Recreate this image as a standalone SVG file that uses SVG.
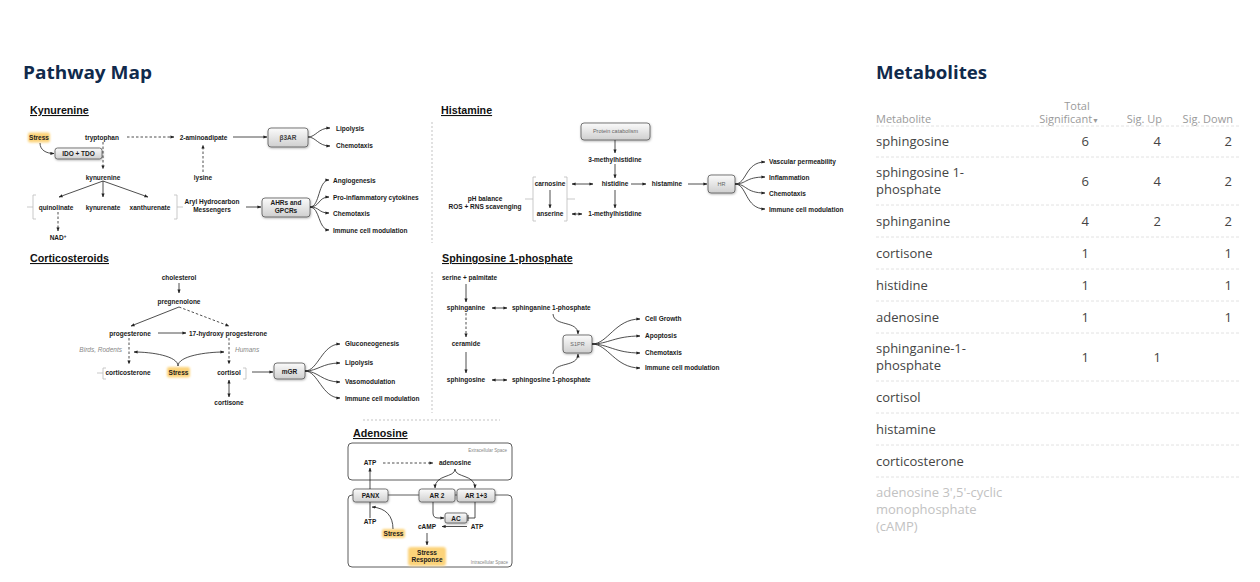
<svg xmlns="http://www.w3.org/2000/svg" width="1260" height="582" viewBox="0 0 1260 582">
<defs>
<style>
.ttl{font-family:"Open Sans","Liberation Sans",sans-serif;font-weight:bold;font-size:18px;fill:#102a4c}
.hd{font-family:"Liberation Sans",Arial,sans-serif;font-weight:bold;font-size:10.7px;fill:#111;text-decoration:underline}
.d{font-family:"Liberation Sans",Arial,sans-serif;font-weight:bold;font-size:6.5px;fill:#1a1a1a;text-anchor:middle}
.ds{font-family:"Liberation Sans",Arial,sans-serif;font-weight:bold;font-size:6.5px;fill:#1a1a1a}
.g{font-family:"Liberation Sans",Arial,sans-serif;font-size:5.5px;fill:#666;text-anchor:middle}
.it{font-family:"Liberation Sans",Arial,sans-serif;font-style:italic;font-size:6.5px;fill:#888}
.sp{font-family:"Liberation Sans",Arial,sans-serif;font-size:4.5px;fill:#888;text-anchor:end}
.box{fill:url(#bg);stroke:#555;stroke-width:0.8;filter:url(#sh)}
.hl{fill:#fcd37a;filter:url(#glow)}
.c{fill:none;stroke:#222;stroke-width:0.8}
.a{marker-end:url(#ah)}
.aa{marker-end:url(#ah);marker-start:url(#ah)}
.dash{stroke-dasharray:2.5,2}
.br{fill:none;stroke:#bbb;stroke-width:0.8}
.sep{stroke:#aaa;stroke-width:0.7;stroke-dasharray:2,2}
.cell{fill:none;stroke:#333;stroke-width:0.8}
.th{font-family:"Open Sans","Liberation Sans",sans-serif;font-size:11px;fill:#9a9a9a}
.tr{font-family:"Open Sans","Liberation Sans",sans-serif;font-size:13px;fill:#444}
.num{font-family:"Open Sans","Liberation Sans",sans-serif;font-size:13px;fill:#444;text-anchor:end}
.tl{stroke:#e2e2e2;stroke-width:1;stroke-dasharray:3,2}
</style>
<linearGradient id="bg" x1="0" y1="0" x2="0" y2="1"><stop offset="0" stop-color="#fbfbfb"/><stop offset="1" stop-color="#cfcfcf"/></linearGradient>
<filter id="sh" x="-20%" y="-20%" width="140%" height="160%"><feDropShadow dx="0.5" dy="1" stdDeviation="0.8" flood-opacity="0.3"/></filter>
<filter id="glow" x="-30%" y="-50%" width="160%" height="200%"><feGaussianBlur stdDeviation="1.2"/></filter>
<marker id="ah" viewBox="0 0 10 10" refX="9" refY="5" markerWidth="4" markerHeight="4" markerUnits="userSpaceOnUse" orient="auto-start-reverse"><path d="M0,1 L10,5 L0,9 z" fill="#222"/></marker>
</defs>
<rect width="1260" height="582" fill="#fff"/>

<text class="ttl" x="23" y="79" textLength="129" lengthAdjust="spacingAndGlyphs">Pathway Map</text>
<text class="ttl" x="876" y="79" textLength="111" lengthAdjust="spacingAndGlyphs">Metabolites</text>

<!-- section headings -->
<g id="headings">
<text class="hd" x="30" y="114">Kynurenine</text>
<text class="hd" x="441" y="114">Histamine</text>
<text class="hd" x="30" y="262">Corticosteroids</text>
<text class="hd" x="442" y="262">Sphingosine 1-phosphate</text>
<text class="hd" x="353" y="437">Adenosine</text>
<line class="sep" x1="432" y1="122" x2="432" y2="243"/>
<line class="sep" x1="432" y1="272" x2="432" y2="413"/>
<line class="sep" x1="363" y1="420" x2="500" y2="420"/>
</g>

<!-- Kynurenine nodes -->
<g id="kyn-stress"><rect class="hl" x="28" y="132.5" width="22" height="10" rx="2"/><text class="d" x="39" y="139.8">Stress</text></g>
<g id="kyn-ido"><rect class="box" x="55" y="148" width="47" height="11" rx="2.5"/><text class="d" x="78.5" y="155.8">IDO + TDO</text></g>
<g id="kyn-tryptophan"><text class="d" x="102" y="139.5">tryptophan</text></g>
<g id="kyn-aminoadipate"><text class="d" x="203.5" y="139.5">2-aminoadipate</text></g>
<g id="kyn-b3ar"><rect class="box" x="268" y="128" width="40" height="19" rx="3"/><text class="d" x="288" y="139.8" style="fill:#444">β3AR</text></g>
<g id="kyn-lipolysis"><text class="ds" x="336" y="130.5">Lipolysis</text></g>
<g id="kyn-chemo1"><text class="ds" x="336" y="148">Chemotaxis</text></g>
<g id="kyn-kynurenine"><text class="d" x="103" y="179.5">kynurenine</text></g>
<g id="kyn-lysine"><text class="d" x="203" y="179.5">lysine</text></g>
<g id="kyn-quinolinate"><text class="d" x="56" y="209.5">quinolinate</text></g>
<g id="kyn-kynurenate"><text class="d" x="103" y="209.5">kynurenate</text></g>
<g id="kyn-xanthurenate"><text class="d" x="150" y="209.5">xanthurenate</text></g>
<g id="kyn-nad"><text class="d" x="58" y="239.5">NAD<tspan dy="-2" font-size="4.5">+</tspan></text></g>
<g id="kyn-aryl"><text class="d" x="212" y="204">Aryl Hydrocarbon</text><text class="d" x="212" y="212">Messengers</text></g>
<g id="kyn-ahrs"><rect class="box" x="262" y="198" width="48" height="19" rx="3"/><text class="d" x="286" y="205">AHRs and</text><text class="d" x="286" y="213">GPCRs</text></g>
<g id="kyn-angio"><text class="ds" x="333" y="182.5">Angiogenesis</text></g>
<g id="kyn-proinf"><text class="ds" x="333" y="199.5">Pro-inflammatory cytokines</text></g>
<g id="kyn-chemo2"><text class="ds" x="333" y="215.5">Chemotaxis</text></g>
<g id="kyn-immune"><text class="ds" x="333" y="232.5">Immune cell modulation</text></g>

<!-- Histamine nodes -->
<g id="his-protein"><rect class="box" x="581" y="123" width="69" height="17" rx="3"/><text class="g" x="615.5" y="133.3">Protein catabolism</text></g>
<g id="his-3mh"><text class="d" x="615" y="161.5">3-methylhistidine</text></g>
<g id="his-histidine"><text class="d" x="615" y="186.3">histidine</text></g>
<g id="his-histamine"><text class="d" x="667" y="186.3">histamine</text></g>
<g id="his-hr"><rect class="box" x="708" y="175" width="27" height="18" rx="3"/><text class="g" x="721.5" y="186">HR</text></g>
<g id="his-carnosine"><text class="d" x="550" y="186.3">carnosine</text></g>
<g id="his-anserine"><text class="d" x="550" y="216.3">anserine</text></g>
<g id="his-1mh"><text class="d" x="615" y="216.3">1-methylhistidine</text></g>
<g id="his-ph"><text class="d" x="485" y="200.5">pH balance</text><text class="d" x="485" y="208.5">ROS + RNS scavenging</text></g>
<g id="his-vasc"><text class="ds" x="769" y="164.3">Vascular permeability</text></g>
<g id="his-inflam"><text class="ds" x="769" y="179.5">Inflammation</text></g>
<g id="his-chemo"><text class="ds" x="769" y="195.5">Chemotaxis</text></g>
<g id="his-immune"><text class="ds" x="769" y="211.5">Immune cell modulation</text></g>

<!-- Corticosteroid nodes -->
<g id="cor-cholesterol"><text class="d" x="179" y="280.3">cholesterol</text></g>
<g id="cor-pregnenolone"><text class="d" x="179" y="304">pregnenolone</text></g>
<g id="cor-progesterone"><text class="d" x="130" y="335.5">progesterone</text></g>
<g id="cor-17oh"><text class="d" x="228" y="335.5">17-hydroxy progesterone</text></g>
<g id="cor-birds"><text class="it" x="122" y="351.5" text-anchor="end">Birds, Rodents</text></g>
<g id="cor-humans"><text class="it" x="235" y="351.5">Humans</text></g>
<g id="cor-corticosterone"><text class="d" x="128" y="374.5">corticosterone</text></g>
<g id="cor-stress"><rect class="hl" x="167" y="367" width="23" height="10.5" rx="2"/><text class="d" x="178.5" y="374.5">Stress</text></g>
<g id="cor-cortisol"><text class="d" x="229" y="374.5">cortisol</text></g>
<g id="cor-cortisone"><text class="d" x="229" y="404.5">cortisone</text></g>
<g id="cor-mgr"><rect class="box" x="274" y="363" width="31" height="16" rx="3"/><text class="d" x="289.5" y="373.5">mGR</text></g>
<g id="cor-gluco"><text class="ds" x="345" y="346">Gluconeogenesis</text></g>
<g id="cor-lipo"><text class="ds" x="345" y="365">Lipolysis</text></g>
<g id="cor-vaso"><text class="ds" x="345" y="384">Vasomodulation</text></g>
<g id="cor-immune"><text class="ds" x="345" y="400.5">Immune cell modulation</text></g>

<!-- S1P nodes -->
<g id="s1p-serine"><text class="ds" x="442" y="280.3">serine + palmitate</text></g>
<g id="s1p-sphinganine"><text class="d" x="466" y="310.3">sphinganine</text></g>
<g id="s1p-sa1p"><text class="ds" x="512" y="310.3">sphinganine 1-phosphate</text></g>
<g id="s1p-ceramide"><text class="d" x="466" y="346">ceramide</text></g>
<g id="s1p-sphingosine"><text class="d" x="466" y="382.3">sphingosine</text></g>
<g id="s1p-so1p"><text class="ds" x="512" y="382.3">sphingosine 1-phosphate</text></g>
<g id="s1p-s1pr"><rect class="box" x="563" y="335" width="29" height="18" rx="3"/><text class="g" x="577.5" y="346">S1PR</text></g>
<g id="s1p-growth"><text class="ds" x="645" y="321.3">Cell Growth</text></g>
<g id="s1p-apop"><text class="ds" x="645" y="338.3">Apoptosis</text></g>
<g id="s1p-chemo"><text class="ds" x="645" y="355.3">Chemotaxis</text></g>
<g id="s1p-immune"><text class="ds" x="645" y="370.3">Immune cell modulation</text></g>

<!-- Adenosine nodes -->
<g id="ade-extra"><rect class="cell" x="348" y="443" width="164" height="37" rx="4"/><text class="sp" x="507" y="451.5">Extracellular Space</text></g>
<g id="ade-intra"><path class="cell" d="M352,495 L508,495 Q512,495 512,499 L512,563 Q512,567 508,567 L352,567 Q348,567 348,563 L348,499 Q348,495 352,495 Z"/><text class="sp" x="508" y="563.5">Intracellular Space</text></g>
<g id="ade-atp1"><text class="d" x="370" y="465.3">ATP</text></g>
<g id="ade-adenosine"><text class="d" x="455" y="465.3">adenosine</text></g>
<g id="ade-panx"><rect class="box" x="353" y="489" width="35" height="13" rx="2.5"/><text class="d" x="370.5" y="497.8">PANX</text></g>
<g id="ade-ar2"><rect class="box" x="419" y="489" width="36" height="13" rx="2.5"/><text class="d" x="437" y="497.8">AR 2</text></g>
<g id="ade-ar13"><rect class="box" x="457" y="489" width="38" height="13" rx="2.5"/><text class="d" x="476" y="497.8">AR 1+3</text></g>
<g id="ade-atp2"><text class="d" x="370" y="524.3">ATP</text></g>
<g id="ade-stress"><rect class="hl" x="382" y="529" width="23" height="9" rx="2"/><text class="d" x="393.5" y="535.8">Stress</text></g>
<g id="ade-ac"><rect class="box" x="445" y="513" width="22" height="10" rx="2"/><text class="d" x="456" y="520.5">AC</text></g>
<g id="ade-camp"><text class="d" x="427" y="529.3">cAMP</text></g>
<g id="ade-atp3"><text class="d" x="477" y="529.3">ATP</text></g>
<g id="ade-response"><rect class="hl" x="408" y="547" width="38" height="19" rx="3"/><text class="d" x="427" y="554.5">Stress</text><text class="d" x="427" y="562">Response</text></g>

<!-- connectors -->
<g id="connectors">
<path class="c a dash" d="M127,137 L174,137"/>
<path class="c a" d="M233,137 L267,137"/>
<path class="c a" d="M308,137 C316,137 318,128 330,128"/>
<path class="c a" d="M308,137 C316,137 318,146 330,146"/>
<path class="c a" d="M40,143 C40,150 46,153.5 54,153.5"/>
<path class="c a dash" d="M103,142 L103,169"/>
<path class="c a dash" d="M203,172 L203,145"/>
<path class="c a" d="M103,181 L59,197"/>
<path class="c a" d="M103,181 L103,197"/>
<path class="c a" d="M103,181 L148,197"/>
<path class="c a dash" d="M58,212 L58,231"/>
<path class="br" d="M36,195 L33,195 L33,219 L36,219 M27,207 L33,207"/>
<path class="br" d="M174,195 L177,195 L177,219 L174,219 M177,207 L183,207"/>
<path class="c a" d="M246,207 L261,207"/>
<path class="c a" d="M310,207 C320,207 318,180 329,180"/>
<path class="c a" d="M310,207 C320,207 318,197 329,197"/>
<path class="c a" d="M310,207 C320,207 318,213 329,213"/>
<path class="c a" d="M310,207 C320,207 318,230 329,230"/>
<path class="c a" d="M615,140 L615,153"/>
<path class="c a" d="M615,164 L615,178"/>
<path class="c aa" d="M572,184 L593,184"/>
<path class="c aa" d="M572,214 L582,214"/>
<path class="c a" d="M550,190 L550,208"/>
<path class="c a" d="M615,190 L615,208"/>
<path class="c a" d="M631,184 L646,184"/>
<path class="c a" d="M688,184 L707,184"/>
<path class="c a" d="M735,184 C747,184 745,162 765,162"/>
<path class="c a" d="M735,184 C747,184 745,177 765,177"/>
<path class="c a" d="M735,184 C747,184 745,193 765,193"/>
<path class="c a" d="M735,184 C747,184 745,209 765,209"/>
<path class="br" d="M536,177 L533,177 L533,221 L536,221 M525,199 L533,199"/>
<path class="br" d="M564,177 L567,177 L567,221 L564,221 M567,199 L575,199"/>
<path class="c a" d="M179,283 L179,293"/>
<path class="c a" d="M179,307 L131,326"/>
<path class="c a dash" d="M179,307 L229,326"/>
<path class="c a" d="M158,333 L186,333"/>
<path class="c a dash" d="M129,338 L129,364"/>
<path class="c a dash" d="M229,338 L229,364"/>
<path class="c a" d="M178,366 C178,356 152,352 134,352"/>
<path class="c a" d="M178,366 C178,356 206,352 224,352"/>
<path class="br" d="M106,368 L103,368 L103,379 L106,379 M97,373 L103,373"/>
<path class="br" d="M243,368 L246,368 L246,379 L243,379"/>
<path class="c aa" d="M229,380 L229,397"/>
<path class="c a" d="M252,372 L273,372"/>
<path class="c a" d="M305,371 C318,371 322,344 340,344"/>
<path class="c a" d="M305,371 C318,371 322,363 340,363"/>
<path class="c a" d="M305,371 C318,371 322,382 340,382"/>
<path class="c a" d="M305,371 C318,371 322,398 340,398"/>
<path class="c a" d="M466,284 L466,302"/>
<path class="c aa" d="M492,308 L507,308"/>
<path class="c a dash" d="M466,313 L466,337"/>
<path class="c a" d="M466,352 L466,373"/>
<path class="c aa" d="M492,380 L507,380"/>
<path class="c a" d="M553,314 C554,327 578,320 578,334"/>
<path class="c a" d="M553,374 C554,361 578,368 578,354"/>
<path class="c a" d="M592,344 C608,344 615,319 640,319"/>
<path class="c a" d="M592,344 C608,344 615,336 640,336"/>
<path class="c a" d="M592,344 C608,344 615,353 640,353"/>
<path class="c a" d="M592,344 C608,344 615,368 640,368"/>
<path class="c a dash" d="M383,463 L433,463"/>
<path class="c a" d="M455,469 C455,478 435,474 435,488"/>
<path class="c a" d="M455,469 C455,478 475,474 475,488"/>
<path class="c a" d="M370,489 L370,468"/>
<path class="c" d="M370,502 L370,518"/>
<path class="c a" d="M393,529 C393,516 386,508 372,507"/>
<path class="c a" d="M433,502 L433,513 Q433,518 438,518 L444,518"/>
<path class="c" d="M475,502 L475,518 L468,518 M468,515 L468,521"/>
<path class="c a" d="M467,526.5 L442,526.5"/>
<path class="c a" d="M427,533 L427,545"/>
</g>

<!-- Metabolites table -->
<g id="table">
<text class="th" x="876" y="123">Metabolite</text>
<text class="th" x="1077" y="110" text-anchor="middle">Total</text>
<text class="th" x="1099" y="123" text-anchor="end">Significant<tspan font-size="7">▼</tspan></text>
<text class="th" x="1162" y="123" text-anchor="end">Sig. Up</text>
<text class="th" x="1233" y="123" text-anchor="end">Sig. Down</text>
<line class="tl" x1="876" y1="126" x2="1241" y2="126"/>
<line class="tl" x1="876" y1="157" x2="1241" y2="157"/>
<line class="tl" x1="876" y1="205" x2="1241" y2="205"/>
<line class="tl" x1="876" y1="237" x2="1241" y2="237"/>
<line class="tl" x1="876" y1="269" x2="1241" y2="269"/>
<line class="tl" x1="876" y1="301" x2="1241" y2="301"/>
<line class="tl" x1="876" y1="333" x2="1241" y2="333"/>
<line class="tl" x1="876" y1="381" x2="1241" y2="381"/>
<line class="tl" x1="876" y1="413" x2="1241" y2="413"/>
<line class="tl" x1="876" y1="445" x2="1241" y2="445"/>
<line class="tl" x1="876" y1="477" x2="1241" y2="477"/>
<text class="tr" x="876" y="146">sphingosine</text>
<text class="num" x="1089" y="146">6</text><text class="num" x="1161" y="146">4</text><text class="num" x="1232" y="146">2</text>
<text class="tr" x="876" y="177">sphingosine 1-</text><text class="tr" x="876" y="194">phosphate</text>
<text class="num" x="1089" y="186">6</text><text class="num" x="1161" y="186">4</text><text class="num" x="1232" y="186">2</text>
<text class="tr" x="876" y="226">sphinganine</text>
<text class="num" x="1089" y="226">4</text><text class="num" x="1161" y="226">2</text><text class="num" x="1232" y="226">2</text>
<text class="tr" x="876" y="258">cortisone</text>
<text class="num" x="1089" y="258">1</text><text class="num" x="1232" y="258">1</text>
<text class="tr" x="876" y="290">histidine</text>
<text class="num" x="1089" y="290">1</text><text class="num" x="1232" y="290">1</text>
<text class="tr" x="876" y="322">adenosine</text>
<text class="num" x="1089" y="322">1</text><text class="num" x="1232" y="322">1</text>
<text class="tr" x="876" y="353">sphinganine-1-</text><text class="tr" x="876" y="370">phosphate</text>
<text class="num" x="1089" y="362">1</text><text class="num" x="1161" y="362">1</text>
<text class="tr" x="876" y="402">cortisol</text>
<text class="tr" x="876" y="434">histamine</text>
<text class="tr" x="876" y="466">corticosterone</text>
<text class="tr" x="876" y="497" style="fill:#c2c2c2">adenosine 3',5'-cyclic</text>
<text class="tr" x="876" y="514" style="fill:#c2c2c2">monophosphate</text>
<text class="tr" x="876" y="531" style="fill:#c2c2c2">(cAMP)</text>
</g>
</svg>
